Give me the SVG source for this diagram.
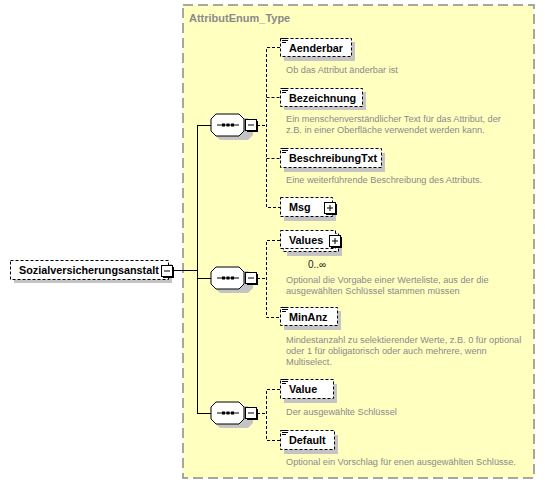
<svg xmlns="http://www.w3.org/2000/svg" width="545" height="484" viewBox="0 0 545 484">
<defs>
<style>
.bg{fill:#FFFFC0;stroke:#8a8a8a;stroke-width:1.5;stroke-dasharray:10,5}
.title{font-family:"Liberation Sans",Arial,sans-serif;font-size:11px;font-weight:bold;fill:#8a8a8a}
.box{fill:#fff;stroke:#000;stroke-width:1;stroke-dasharray:3,2}
.sh{fill:#c4c4c4}
.name{font-family:"Liberation Sans",Arial,sans-serif;font-size:10.8px;font-weight:bold;fill:#000}
.desc{font-family:"Liberation Sans",Arial,sans-serif;font-size:9.2px;fill:#8a8a8a}
.occ{font-family:"Liberation Sans",Arial,sans-serif;font-size:10px;fill:#222}
.solid{stroke:#000;stroke-width:1;fill:none}
.dash{stroke:#000;stroke-width:1;fill:none;stroke-dasharray:3,2}
.pm{fill:#fff;stroke:#000;stroke-width:1}
.oct{fill:#fff;stroke:#000;stroke-width:1}
.ico{stroke:#000;stroke-width:1}
</style>
<g id="icon"><line class="ico" x1="282" y1="0.5" x2="288" y2="0.5"/><line class="ico" x1="282" y1="2.5" x2="288" y2="2.5"/><line class="ico" x1="282" y1="4.5" x2="286" y2="4.5"/></g>
<g id="seq">
<polygon class="sh" points="220,4 248,4 253,9 253,21 248,26 220,26 215,21 215,9"/>
<polygon class="oct" points="216,0 239,0 244,5 244,17 239,22 216,22 211,17 211,5"/>
<line class="solid" x1="217" y1="11" x2="239" y2="11"/>
<rect x="222" y="9.5" width="3" height="3" fill="#000"/>
<rect x="226.5" y="9.5" width="3" height="3" fill="#000"/>
<rect x="231" y="9.5" width="3" height="3" fill="#000"/>
<rect x="247" y="7" width="11" height="11" fill="#000"/>
<rect class="pm" x="245.5" y="5.5" width="11" height="11"/>
<line class="solid" x1="248" y1="11" x2="254" y2="11"/>
</g>
</defs>

<rect class="bg" x="183" y="5" width="351" height="473"/>
<text class="title" x="189" y="22">AttributEnum_Type</text>

<g id="connectors">
<line class="solid" x1="172" y1="270.5" x2="197.5" y2="270.5"/>
<line class="solid" x1="197.5" y1="125.5" x2="197.5" y2="413.5"/>
<line class="solid" x1="197" y1="125.5" x2="211" y2="125.5"/>
<line class="solid" x1="197" y1="278.5" x2="211" y2="278.5"/>
<line class="solid" x1="197" y1="413.5" x2="211" y2="413.5"/>
<line class="dash" x1="257" y1="125.5" x2="266.5" y2="125.5"/>
<path class="dash" d="M280,47.5 H266.5 V207.5 H280 M266.5,97.5 H280 M266.5,158.5 H280"/>
<line class="dash" x1="257" y1="278.5" x2="266.5" y2="278.5"/>
<path class="dash" d="M280,240.5 H266.5 V317.5 H280"/>
<line class="dash" x1="257" y1="413.5" x2="266.5" y2="413.5"/>
<path class="dash" d="M280,389.5 H266.5 V440.5 H280"/>
</g>

<g id="root">
<rect class="sh" x="14" y="264" width="158" height="19"/>
<rect class="box" x="10.5" y="260.5" width="158" height="19"/>
<text class="name" x="19" y="274">Sozialversicherungsanstalt</text>
<rect x="163" y="267" width="11" height="11" fill="#000"/>
<rect class="pm" x="161.5" y="265.5" width="11" height="11"/>
<line class="solid" x1="164" y1="271" x2="170" y2="271"/>
</g>

<g id="seq1"><use href="#seq" transform="translate(0,114)"/></g>
<g id="seq2"><use href="#seq" transform="translate(0,267)"/></g>
<g id="seq3"><use href="#seq" transform="translate(0,402)"/></g>

<g id="Aenderbar">
<rect class="sh" x="284" y="42" width="71" height="19"/>
<rect class="box" x="280.5" y="38.5" width="71" height="18"/>
<use href="#icon" transform="translate(0,38)"/>
<text class="name" x="289" y="51.5">Aenderbar</text>
<text class="desc" x="286" y="73">Ob das Attribut änderbar ist</text>
</g>

<g id="Bezeichnung">
<rect class="sh" x="284" y="92" width="82" height="18"/>
<rect class="box" x="280.5" y="88.5" width="82" height="18"/>
<use href="#icon" transform="translate(0,88)"/>
<text class="name" x="289" y="101.5">Bezeichnung</text>
<text class="desc" x="286" y="122">Ein menschenverständlicher Text für das Attribut, der</text>
<text class="desc" x="286" y="133">z.B. in einer Oberfläche verwendet werden kann.</text>
</g>

<g id="BeschreibungTxt">
<rect class="sh" x="284" y="153" width="101" height="19"/>
<rect class="box" x="280.5" y="148.5" width="101" height="19"/>
<use href="#icon" transform="translate(0,148)"/>
<text class="name" x="289" y="162">BeschreibungTxt</text>
<text class="desc" x="286" y="183">Eine weiterführende Beschreibung des Attributs.</text>
</g>

<g id="Msg">
<rect class="sh" x="284" y="202" width="52" height="19"/>
<rect class="box" x="280.5" y="197.5" width="52" height="19"/>
<text class="name" x="289" y="211">Msg</text>
<rect x="326" y="204" width="11" height="11" fill="#000"/>
<rect class="pm" x="324.5" y="202.5" width="11" height="11"/>
<line class="solid" x1="327" y1="208" x2="333" y2="208"/>
<line class="solid" x1="330" y1="205" x2="330" y2="211"/>
</g>

<g id="Values">
<rect class="sh" x="287" y="237" width="55" height="19"/>
<rect class="box" x="283.5" y="233.5" width="55" height="18"/>
<rect class="box" x="280.5" y="230.5" width="55" height="18"/>
<text class="name" x="289" y="244">Values</text>
<rect x="331" y="237" width="11" height="11" fill="#000"/>
<rect class="pm" x="329.5" y="235.5" width="11" height="11"/>
<line class="solid" x1="332" y1="241" x2="338" y2="241"/>
<line class="solid" x1="335" y1="238" x2="335" y2="244"/>
<text class="occ" x="308" y="268">0..∞</text>
<text class="desc" x="286" y="283">Optional die Vorgabe einer Werteliste, aus der die</text>
<text class="desc" x="286" y="294">ausgewählten Schlüssel stammen müssen</text>
</g>

<g id="MinAnz">
<rect class="sh" x="284" y="311" width="57" height="19"/>
<rect class="box" x="280.5" y="307.5" width="57" height="18"/>
<use href="#icon" transform="translate(0,307)"/>
<text class="name" x="289" y="321">MinAnz</text>
<text class="desc" x="286" y="343">Mindestanzahl zu selektierender Werte, z.B. 0 für optional</text>
<text class="desc" x="286" y="354">oder 1 für obligatorisch oder auch mehrere, wenn</text>
<text class="desc" x="286" y="365">Multiselect.</text>
</g>

<g id="Value">
<rect class="sh" x="284" y="384" width="53" height="19"/>
<rect class="box" x="280.5" y="379.5" width="53" height="19"/>
<use href="#icon" transform="translate(0,379)"/>
<text class="name" x="289" y="393">Value</text>
<text class="desc" x="286" y="415">Der ausgewählte Schlüssel</text>
</g>

<g id="Default">
<rect class="sh" x="284" y="435" width="54" height="19"/>
<rect class="box" x="280.5" y="430.5" width="54" height="19"/>
<use href="#icon" transform="translate(0,430)"/>
<text class="name" x="289" y="444">Default</text>
<text class="desc" x="286" y="465">Optional ein Vorschlag für enen ausgewählten Schlüsse.</text>
</g>
</svg>
